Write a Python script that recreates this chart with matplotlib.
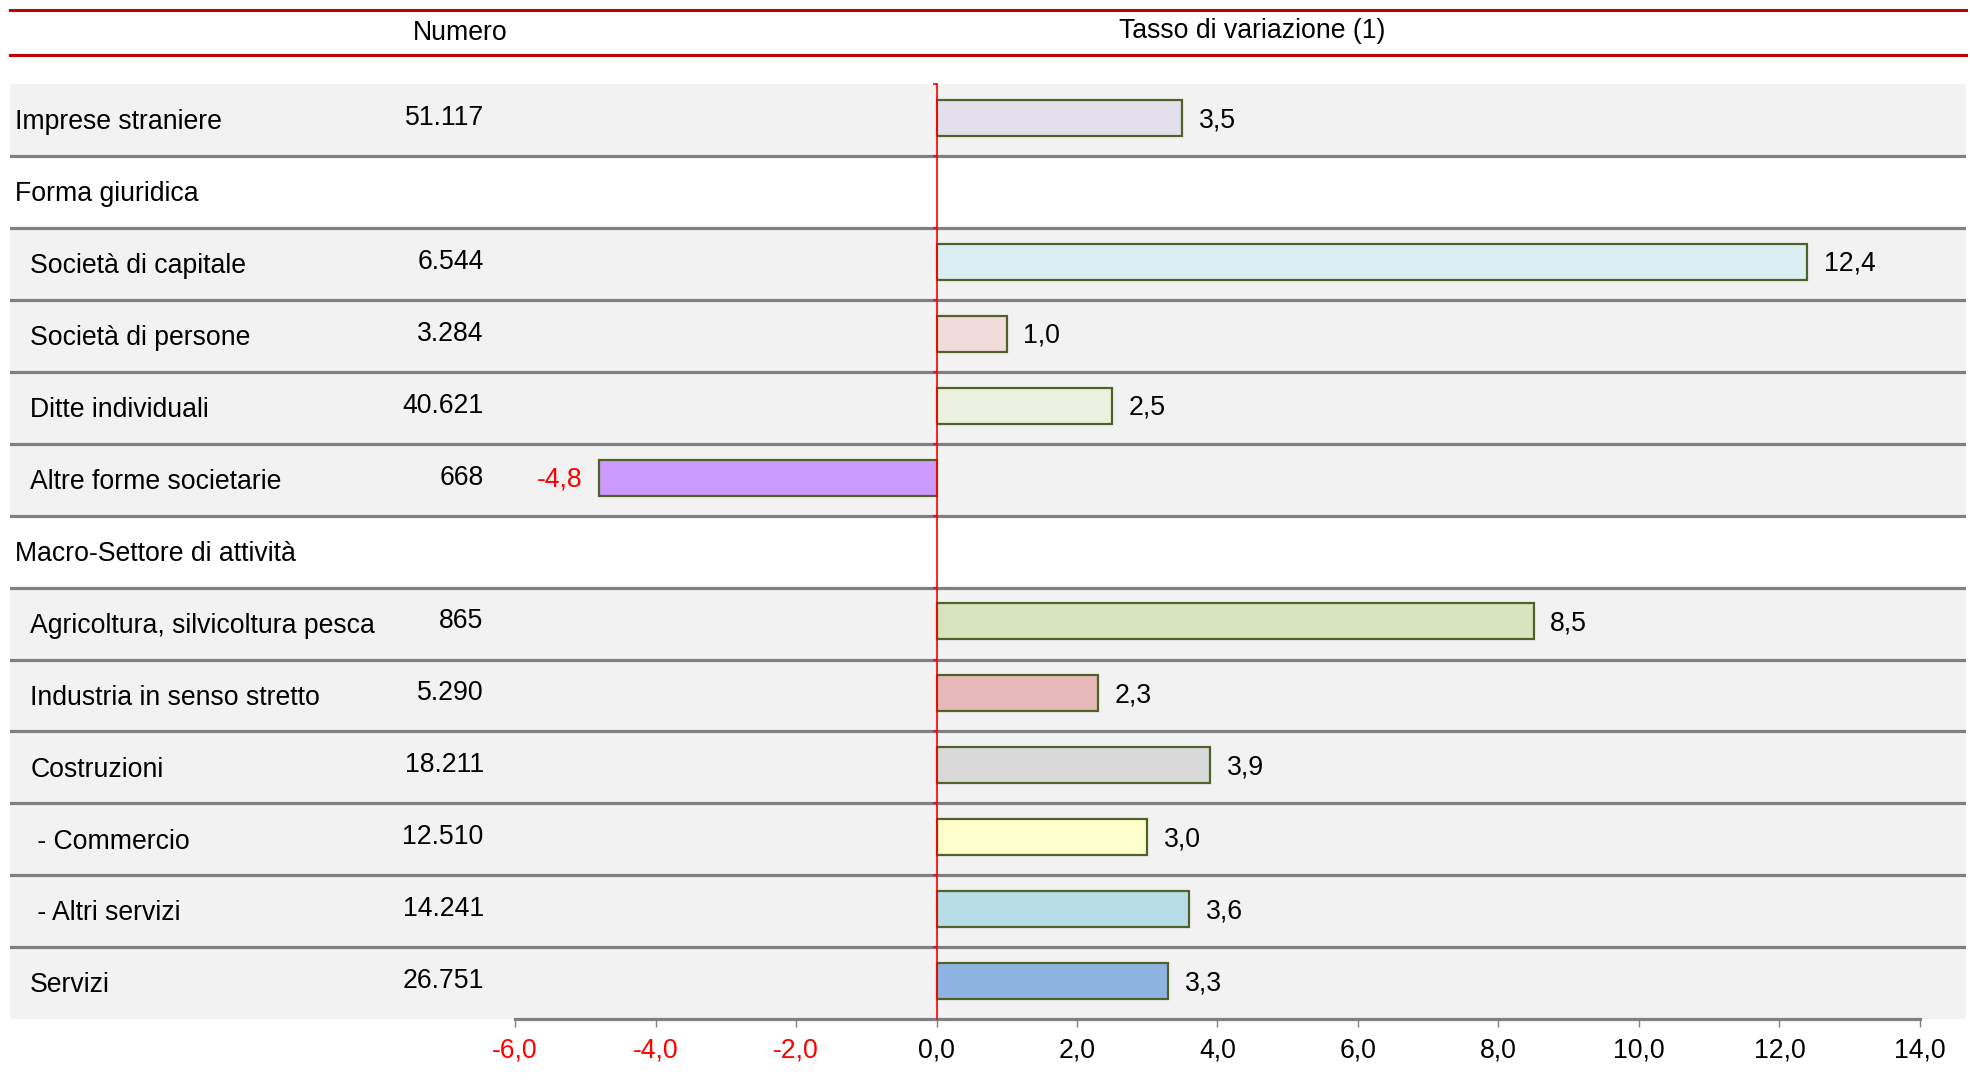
import matplotlib.pyplot as plt
import matplotlib.transforms as mtransforms
import numpy as np

plt.rcParams['font.family'] = ['Liberation Sans', 'DejaVu Sans']

labels = ["Imprese straniere", "Forma giuridica", "Società di capitale",
          "Società di persone", "Ditte individuali", "Altre forme societarie",
          "Macro-Settore di attività", "Agricoltura, silvicoltura pesca",
          "Industria in senso stretto", "Costruzioni", " - Commercio",
          " - Altri servizi", "Servizi"]
numero = [51117, None, 6544, 3284, 40621, 668, None, 865, 5290, 18211, 12510, 14241, 26751]
tasso = [3.5, None, 12.4, 1.0, 2.5, -4.8, None, 8.5, 2.3, 3.9, 3.0, 3.6, 3.3]
section_rows = [1, 6]
colors = ["#e4dfec", None, "#daeef3", "#f2dcdb", "#ebf1de", "#cc99ff", None,
          "#d7e4bd", "#e6b9b8", "#d9d9d9", "#ffffcc", "#b7dee8", "#8eb4e3"]
xticks = [-6, -4, -2, 0, 2, 4, 6, 8, 10, 12, 14]

W, H = 1568.0, 861.0  # reference measured on a scaled copy
fs = 19.2

fig = plt.figure(figsize=(19.7, 10.82), dpi=100)
ax = fig.add_axes([8 / W, 1 - 811 / H, (1565 - 8) / W, (811 - 67) / H])
ax.set_xlim(-13.19, 14.66)
ax.set_ylim(len(labels) - 0.5, -0.5)
ax.set_facecolor("white")

# row backgrounds and separators
for i in range(len(labels)):
    if i not in section_rows:
        ax.axhspan(i - 0.5, i + 0.5, color="#f2f2f2", lw=0, zorder=0)
for i in range(len(labels) - 1):
    ax.axhline(i + 0.5, color="#808080", lw=2.3, zorder=1)

# bars
for i, v in enumerate(tasso):
    if v is None:
        continue
    ax.barh(i - 0.03, v, height=0.5, color=colors[i], edgecolor="#4f6228", lw=1.6, zorder=3)
    if v >= 0:
        ax.annotate(f"{v:.1f}".replace(".", ","), (v, i), xytext=(12, 0),
                    textcoords="offset points", va="center", ha="left", fontsize=fs)
    else:
        ax.annotate(f"{v:.1f}".replace(".", ","), (v, i), xytext=(-12, 0),
                    textcoords="offset points", va="center", ha="right",
                    fontsize=fs, color="red")

# labels and numbers
trans = mtransforms.blended_transform_factory(fig.transFigure, ax.transData)
for i, lab in enumerate(labels):
    x = 12 / W if i in section_rows or i == 0 else 24 / W
    ax.text(x, i + 0.03, lab, transform=trans, ha="left", va="center", fontsize=fs)
    if numero[i] is not None:
        ax.text(385 / W, i - 0.03, f"{numero[i]:,}".replace(",", "."), transform=trans,
                ha="right", va="center", fontsize=fs)

# red zero axis
for s in ["top", "right"]:
    ax.spines[s].set_visible(False)
ax.spines["left"].set_position(("data", 0))
ax.spines["left"].set_color("red")
ax.spines["left"].set_linewidth(1.2)
ax.spines["left"].set_zorder(4)
ax.set_yticks(np.arange(-0.5, len(labels), 1.0))
ax.set_yticklabels([])
ax.tick_params(axis="y", colors="red", length=3, width=1.2, direction="out")

# bottom axis
ax.spines["bottom"].set_bounds(-6, 14)
ax.spines["bottom"].set_color("#808080")
ax.spines["bottom"].set_linewidth(2.3)
ax.spines["bottom"].set_zorder(2)
ax.set_xticks(xticks)
ax.set_xticklabels([f"{t:.1f}".replace(".", ",") for t in xticks], fontsize=fs)
ax.tick_params(axis="x", color="#808080", length=6, width=1, pad=7)
for t, lab in zip(xticks, ax.get_xticklabels()):
    if t < 0:
        lab.set_color("red")

# header
for y in [8, 44]:
    fig.add_artist(plt.Line2D([8 / W, 1565 / W], [1 - y / H, 1 - y / H],
                              color="#c00000", lw=2.2, transform=fig.transFigure))
fig.text(366 / W, 1 - 26 / H, "Numero", ha="center", va="center", fontsize=fs)
fig.text(997 / W, 1 - 25 / H, "Tasso di variazione (1)", ha="center", va="center", fontsize=fs)

fig.savefig("out.png", dpi=100)
